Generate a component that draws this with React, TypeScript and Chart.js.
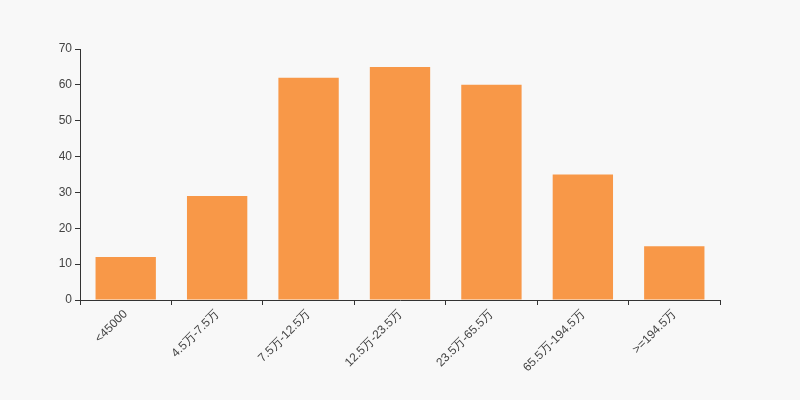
import React, { useEffect, useRef } from "react";
import { Chart, registerables } from "chart.js";

Chart.register(...registerables);

const categories = ["<45000", "4.5万-7.5万", "7.5万-12.5万", "12.5万-23.5万", "23.5万-65.5万", "65.5万-194.5万", ">=194.5万"];
const values = [12, 29, 62, 65, 60, 35, 15];
const yTicks = [0, 10, 20, 30, 40, 50, 60, 70];

export default function App() {
  const ref = useRef<HTMLCanvasElement | null>(null);
  useEffect(() => {
    document.body.style.margin = "0";
    document.body.style.background = "#f8f8f8";
    const ctx = ref.current!;
    const chart = new Chart(ctx, {
      type: "bar",
      data: {
        labels: categories,
        datasets: [
          {
            data: values,
            backgroundColor: "#f89848",
            borderWidth: 0,
            categoryPercentage: 1,
            barPercentage: 0.66,
          },
        ],
      },
      options: {
        animation: false,
        responsive: false,
        maintainAspectRatio: false,
        layout: { padding: { top: 49, right: 80, left: 0, bottom: 0 } },
        plugins: { legend: { display: false }, tooltip: { enabled: false } },
        scales: {
          x: {
            offset: true,
            grid: {
              display: true,
              offset: true,
              drawOnChartArea: false,
              drawTicks: true,
              tickLength: 5,
              color: "#333",
            },
            border: { display: true, color: "#333", width: 1 },
            ticks: {
              color: "#444",
              font: { family: "'Liberation Sans', Arial, sans-serif", size: 12 },
              minRotation: 45,
              maxRotation: 45,
              autoSkip: false,
              padding: 2,
            },
            afterFit: (s: any) => {
              s.height = 100;
            },
          },
          y: {
            min: 0,
            max: 70,
            afterBuildTicks: (s: any) => {
              s.ticks = yTicks.map((v) => ({ value: v }));
            },
            grid: {
              display: true,
              drawOnChartArea: false,
              drawTicks: true,
              tickLength: 5,
              color: "#333",
            },
            border: { display: true, color: "#333", width: 1 },
            ticks: {
              color: "#444",
              font: { family: "'Liberation Sans', Arial, sans-serif", size: 12 },
              padding: 3,
            },
            afterFit: (s: any) => {
              s.width = 80;
            },
          },
        },
      },
    });
    return () => chart.destroy();
  }, []);
  return (
    <div style={{ width: 800, height: 400, background: "#f8f8f8" }}>
      <canvas ref={ref} width={800} height={400} style={{ display: "block" }} />
    </div>
  );
}
